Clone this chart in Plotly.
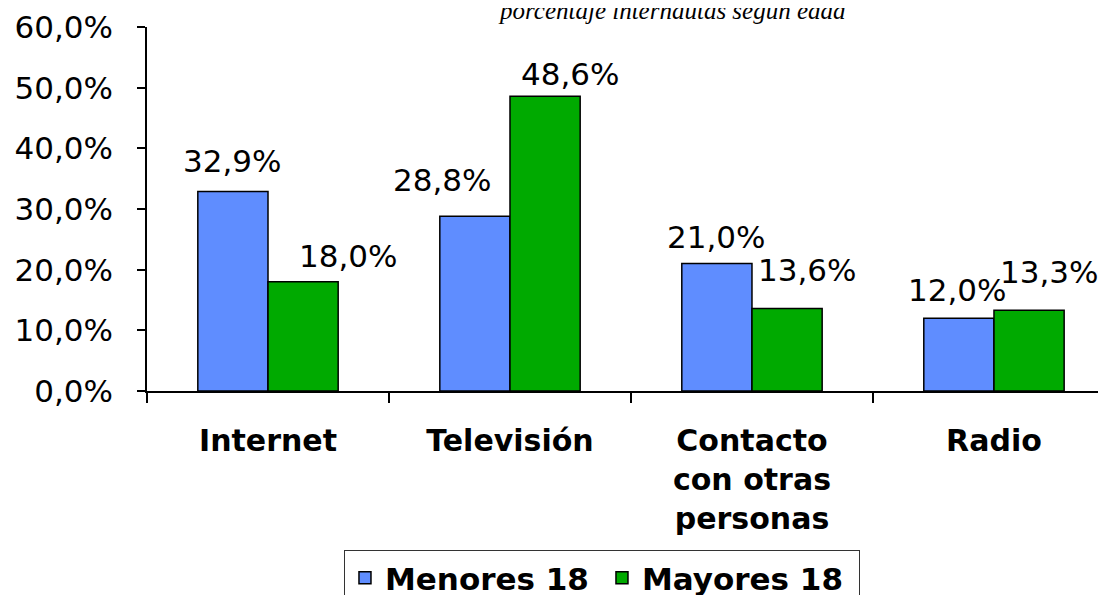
import plotly.graph_objects as go

# Data
categories = ["Internet", "Televisión", "Contacto<br>con otras<br>personas", "Radio"]
menores = [32.9, 28.8, 21.0, 12.0]
mayores = [18.0, 48.6, 13.6, 13.3]
series_names = ["Menores 18", "Mayores 18"]
title_text = "porcentaje internautas según edad"

# label offsets (px) from category centre / bar top, as placed in the original
menores_dx = [-36, -68, -36, -37]
menores_dy = [30, 36, 27, 28]
mayores_dx = [80, 60, 55, 55]
mayores_dy = [26, 22, 38, 38]

FONT = "DejaVu Sans"

fig = go.Figure()
fig.add_trace(go.Bar(
    x=categories, y=menores, name=series_names[0],
    marker=dict(color="#5f8dff", line=dict(color="black", width=1.5)),
))
fig.add_trace(go.Bar(
    x=categories, y=mayores, name=series_names[1],
    marker=dict(color="#00aa00", line=dict(color="black", width=1.5)),
))

fmt = lambda v: f"{v:.1f}".replace(".", ",") + "%"

for vals, dxs, dys in [(menores, menores_dx, menores_dy), (mayores, mayores_dx, mayores_dy)]:
    for cat, v, dx, dy in zip(categories, vals, dxs, dys):
        fig.add_annotation(
            x=cat, y=v, xref="x", yref="y", text=fmt(v), showarrow=False,
            xshift=dx, yshift=dy, yanchor="middle",
            font=dict(family=FONT, size=31, color="black"),
        )

fig.add_annotation(
    x=0.543, y=1.046, xref="paper", yref="paper", text=f"<i>{title_text}</i>",
    showarrow=False, yanchor="middle",
    font=dict(family="Liberation Serif", size=25, color="black"),
)

fig.update_layout(
    width=1106, height=595,
    margin=dict(l=139, r=0, t=19, b=212, autoexpand=False),
    paper_bgcolor="white", plot_bgcolor="white",
    barmode="group", bargap=0.42, bargroupgap=0,
    separators=",.",
    font=dict(family=FONT, size=31, color="black"),
    legend=dict(
        orientation="h", x=0.4705, xanchor="center", y=-0.437, yanchor="top",
        bordercolor="#333", borderwidth=1, bgcolor="white",
        entrywidth=212,
        font=dict(family=FONT, size=31, weight="bold"),
    ),
    xaxis=dict(
        range=[-0.5, 3.496], showline=True, linecolor="black", linewidth=1.5,
        ticks="outside", tickson="boundaries", ticklen=10, tickcolor="black",
        tickwidth=1.5, ticklabelstandoff=22, automargin=False,
        tickfont=dict(family=FONT, size=30, weight="bold"),
    ),
    yaxis=dict(
        range=[0, 60], dtick=10, tickformat=".1f", ticksuffix="%",
        showline=True, linecolor="black", linewidth=1.5, showgrid=False,
        ticks="outside", ticklen=8, tickcolor="black", tickwidth=1.5,
        ticklabelstandoff=18, zeroline=False, automargin=False,
        tickfont=dict(family=FONT, size=31),
    ),
)

fig.write_html("out.html")
